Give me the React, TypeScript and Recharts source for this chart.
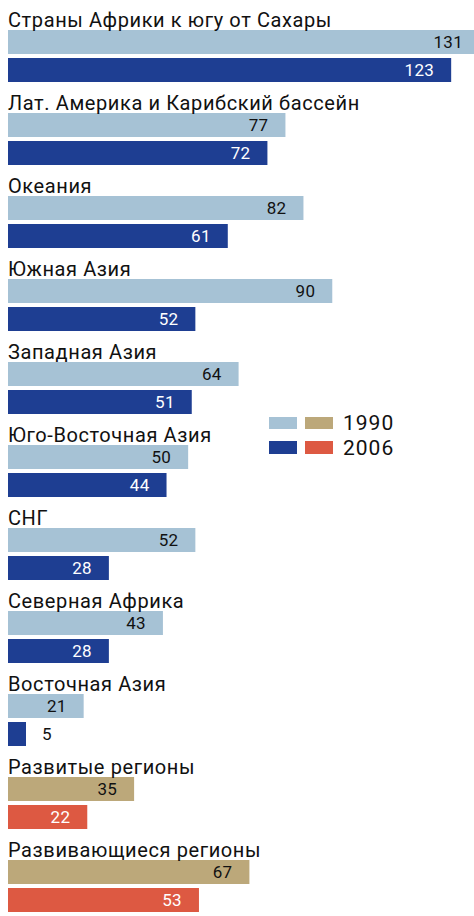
import React from "react";
import { BarChart, Bar, XAxis, YAxis, Cell, LabelList } from "recharts";

const regions = [
  "Страны Африки к югу от Сахары",
  "Лат. Америка и Карибский бассейн",
  "Океания",
  "Южная Азия",
  "Западная Азия",
  "Юго-Восточная Азия",
  "СНГ",
  "Северная Африка",
  "Восточная Азия",
  "Развитые регионы",
  "Развивающиеся регионы",
];
const values1990 = [131, 77, 82, 90, 64, 50, 52, 43, 21, 35, 67];
const values2006 = [123, 72, 61, 52, 51, 44, 28, 28, 5, 22, 53];
// последние две строки - итоговые, у них свои цвета
const isTotal = [false, false, false, false, false, false, false, false, false, true, true];

const C_LIGHT = "#a6c2d5";
const C_DARK = "#1e3e92";
const C_TAN = "#bca87a";
const C_RED = "#dd5942";
const FONT = "Roboto, 'Noto Sans', sans-serif";

const data = regions.map((name, i) => ({
  name,
  v1990: values1990[i],
  v2006: values2006[i],
  total: isTotal[i],
}));

const renderName = (props: any) => {
  const { x, y, value } = props;
  return (
    <text x={x} y={y - 3} fontSize={20} letterSpacing={0.6} fontFamily={FONT} fill="#111">
      {value}
    </text>
  );
};

const makeValueLabel = (series: "1990" | "2006") => (props: any) => {
  const { x, y, width, height, value } = props;
  const inside = width > 30;
  const fill = !inside ? "#111" : series === "1990" ? "#111" : "#fff";
  return (
    <text
      x={inside ? x + width - 17 : x + width + 16}
      y={y + height / 2 + 6}
      fontSize={17}
      letterSpacing={0.3}
      fontFamily={FONT}
      textAnchor={inside ? "end" : "start"}
      fill={fill}
    >
      {value}
    </text>
  );
};

export default function App() {
  return (
    <div
      style={{
        position: "absolute",
        top: 0,
        left: 0,
        width: 474,
        height: 916,
        overflow: "hidden",
        background: "#fff",
      }}
    >
      <BarChart
        width={480}
        height={927}
        data={data}
        layout="vertical"
        margin={{ top: 14, right: 0, bottom: 0, left: 8 }}
        barSize={24}
        barGap={4}
      >
        <XAxis type="number" domain={[0, 131]} hide />
        <YAxis type="category" dataKey="name" hide />
        <Bar dataKey="v1990" isAnimationActive={false}>
          {data.map((d, i) => (
            <Cell key={i} fill={d.total ? C_TAN : C_LIGHT} />
          ))}
          <LabelList dataKey="name" content={renderName} />
          <LabelList dataKey="v1990" content={makeValueLabel("1990")} />
        </Bar>
        <Bar dataKey="v2006" isAnimationActive={false}>
          {data.map((d, i) => (
            <Cell key={i} fill={d.total ? C_RED : C_DARK} />
          ))}
          <LabelList dataKey="v2006" content={makeValueLabel("2006")} />
        </Bar>
      </BarChart>
      <div style={{ position: "absolute", left: 269, top: 410, fontFamily: FONT }}>
        <svg width={140} height={52}>
          <rect x={0} y={7} width={28} height={12} fill={C_LIGHT} />
          <rect x={36} y={7} width={28} height={12} fill={C_TAN} />
          <text x={74} y={20} fontSize={21} letterSpacing={1} fill="#111">
            1990
          </text>
          <rect x={0} y={31} width={28} height={13} fill={C_DARK} />
          <rect x={36} y={31} width={28} height={13} fill={C_RED} />
          <text x={74} y={45} fontSize={21} letterSpacing={1} fill="#111">
            2006
          </text>
        </svg>
      </div>
    </div>
  );
}
